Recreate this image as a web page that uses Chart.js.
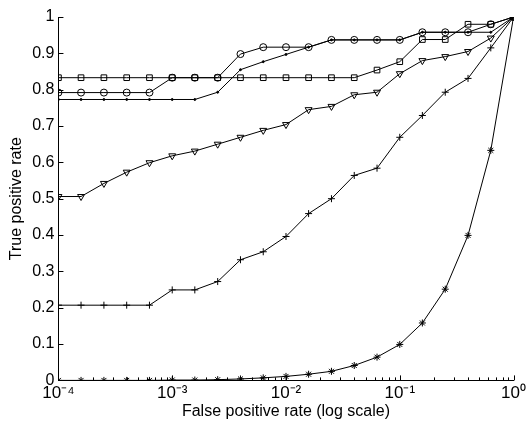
<!DOCTYPE html>
<html>
<head>
<meta charset="utf-8">
<script src="https://cdn.jsdelivr.net/npm/chart.js@4"></script>
<style>
  html, body { margin: 0; padding: 0; background: #fff; }
  #wrap { width: 529px; height: 421px; }
</style>
</head>
<body>
<div id="wrap"><canvas id="myChart" width="529" height="421"></canvas></div>
<script>
// false positive rate, one value per marker (log spaced)
const fpr = [0.0001, 0.000158, 0.000251, 0.000398, 0.000631, 0.001, 0.00158, 0.00251, 0.00398, 0.00631,
    0.01, 0.0158, 0.0251, 0.0398, 0.0631, 0.1, 0.158, 0.251, 0.398, 0.631, 1]

const tprSquare = [0.833, 0.833, 0.833, 0.833, 0.833, 0.833, 0.833, 0.833, 0.833, 0.833,
    0.833, 0.833, 0.833, 0.833, 0.854, 0.877, 0.938, 0.938, 0.98, 0.98, 1]
const tprCircle = [0.792, 0.792, 0.792, 0.792, 0.792, 0.833, 0.833, 0.833, 0.898, 0.917,
    0.917, 0.917, 0.937, 0.937, 0.937, 0.937, 0.958, 0.958, 0.958, 0.98, 1]
const tprDot = [0.773, 0.773, 0.773, 0.773, 0.773, 0.773, 0.773, 0.793, 0.855, 0.877,
    0.897, 0.917, 0.937, 0.937, 0.937, 0.937, 0.958, 0.958, 0.958, 0.958, 1]
const tprTriangle = [0.506, 0.506, 0.542, 0.573, 0.599, 0.618, 0.631, 0.650, 0.669, 0.688,
    0.704, 0.745, 0.754, 0.786, 0.793, 0.844, 0.880, 0.891, 0.905, 0.942, 1]
const tprPlus = [0.207, 0.207, 0.207, 0.207, 0.207, 0.249, 0.249, 0.272, 0.332, 0.354,
    0.396, 0.459, 0.5, 0.564, 0.584, 0.669, 0.729, 0.793, 0.831, 0.915, 1]
const tprStar = [0, 0, 0, 0, 0, 0.001, 0.001, 0.002, 0.004, 0.007,
    0.011, 0.017, 0.025, 0.041, 0.064, 0.099, 0.158, 0.251, 0.399, 0.633, 1]

const xTickValues = [0.0001, 0.001, 0.01, 0.1, 1]
const xTickLabels = ['10\u207B\u2074', '10\u207B\u00B3', '10\u207B\u00B2', '10\u207B\u00B9', '10\u2070']
const yTickValues = [0, 0.1, 0.2, 0.3, 0.4, 0.5, 0.6, 0.7, 0.8, 0.9, 1]
const yTickLabels = ['0', '0.1', '0.2', '0.3', '0.4', '0.5', '0.6', '0.7', '0.8', '0.9', '1']

const fontFamily = "'Liberation Sans', Arial, sans-serif"

const toPoints = (serie) => serie.map((v, i) => ({ x: fpr[i], y: v }))

const makeDataset = (serie, style, radius, extra) => Object.assign({
    data: toPoints(serie),
    borderColor: '#000',
    borderWidth: 1,
    pointStyle: style,
    pointRadius: radius,
    pointHoverRadius: radius,
    pointBorderColor: '#000',
    pointBorderWidth: 1,
    pointBackgroundColor: 'rgba(0,0,0,0)',
    tension: 0,
    fill: false
}, extra || {})

// ticks pointing inside the plot, like the original figure
const inwardTicks = {
    id: 'inwardTicks',
    afterDraw(chart) {
        const ctx = chart.ctx
        const x = chart.scales.x
        const y = chart.scales.y
        ctx.save()
        ctx.strokeStyle = '#000'
        ctx.lineWidth = 1
        ctx.beginPath()
        yTickValues.forEach(v => {
            const py = Math.round(y.getPixelForValue(v)) + 0.5
            ctx.moveTo(x.left, py)
            ctx.lineTo(x.left + 5, py)
        })
        for (let e = -4; e <= 0; e++) {
            for (let m = 1; m <= 9; m++) {
                const v = m * Math.pow(10, e)
                if (v > 1) break
                const px = Math.round(x.getPixelForValue(v)) + 0.5
                const len = m === 1 ? 5 : 3
                ctx.moveTo(px, y.bottom)
                ctx.lineTo(px, y.bottom - len)
            }
        }
        ctx.stroke()
        ctx.restore()
    }
}

const ctx = document.getElementById('myChart').getContext('2d')
const myChart = new Chart(ctx, {
    type: 'line',
    data: {
        datasets: [
            makeDataset(tprStar, 'star', 3.5),
            makeDataset(tprPlus, 'cross', 3.5),
            makeDataset(tprTriangle, 'triangle', 4, { pointRotation: 180 }),
            makeDataset(tprDot, 'circle', 1, { pointBackgroundColor: '#000' }),
            makeDataset(tprCircle, 'circle', 3.5),
            makeDataset(tprSquare, 'rect', 4)
        ]
    },
    options: {
        responsive: false,
        animation: false,
        layout: { padding: { top: 17, right: -1, left: 7, bottom: 0 } },
        plugins: {
            legend: { display: false },
            tooltip: { enabled: false }
        },
        scales: {
            x: {
                type: 'logarithmic',
                min: 0.0001,
                max: 1,
                afterBuildTicks: (scale) => {
                    scale.ticks = xTickValues.map(v => ({ value: v }))
                },
                grid: { display: false, drawTicks: false },
                border: { display: true, color: '#000', width: 1 },
                ticks: {
                    autoSkip: false,
                    maxRotation: 0,
                    color: '#000',
                    padding: 3,
                    font: { family: fontFamily, size: 17 },
                    callback: (value) => {
                        const i = xTickValues.findIndex(v => Math.abs(v - value) / v < 1e-6)
                        return i >= 0 ? xTickLabels[i] : ''
                    }
                },
                title: {
                    display: true,
                    text: 'False positive rate (log scale)',
                    color: '#000',
                    padding: { top: -5, bottom: 0 },
                    font: { family: fontFamily, size: 16 }
                }
            },
            y: {
                min: 0,
                max: 1,
                afterBuildTicks: (scale) => {
                    scale.ticks = yTickValues.map(v => ({ value: v }))
                },
                grid: { display: false, drawTicks: false },
                border: { display: true, color: '#000', width: 1 },
                ticks: {
                    color: '#000',
                    padding: 4,
                    font: { family: fontFamily, size: 16 },
                    callback: (value, i) => yTickLabels[i]
                },
                title: {
                    display: true,
                    text: 'True positive rate',
                    color: '#000',
                    padding: { top: 0, bottom: 2 },
                    font: { family: fontFamily, size: 16 }
                }
            }
        }
    },
    plugins: [inwardTicks]
})
</script>
</body>
</html>
